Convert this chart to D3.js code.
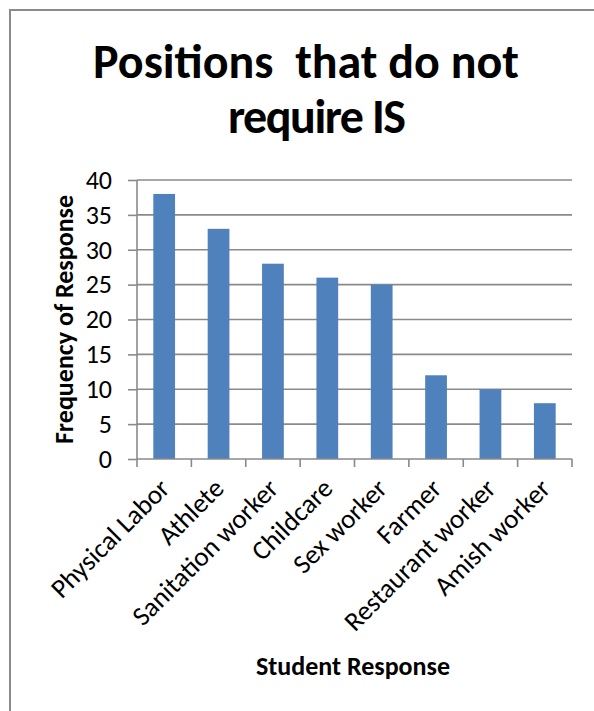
<!DOCTYPE html>
<meta charset="utf-8">
<body>
<div id="div-svg"></div>
<style>
  body { margin: 0; background: #fff; }
  text { font-family: Carlito, Calibri, Lato, sans-serif; fill: #000; }
</style>

<script src="https://d3js.org/d3.v7.min.js"></script>
<script>
    var categories = ["Physical Labor", "Athlete", "Sanitation worker", "Childcare",
                      "Sex worker", "Farmer", "Restaurant worker", "Amish worker"];
    var responses = [38, 33, 28, 26, 25, 12, 10, 8];
    var yTicks = [0, 5, 10, 15, 20, 25, 30, 35, 40];

    var width = 594;
    var height = 711;
    var plotLeft = 137, plotRight = 572, plotTop = 180, plotBottom = 459;
    var gridColor = "#8a8a8a";
    var font = "Carlito, Calibri, Lato, sans-serif";

    var svg = d3.select("#div-svg").append("svg")
        .attr("width", width)
        .attr("height", height);

    // frame round the chart area
    svg.append("path")
      .attr("d", "M10,711 L10,10 L594,10")
      .attr("fill", "none")
      .attr("stroke", "#8a8a8a")
      .attr("stroke-width", 2);

    var x = d3.scaleBand()
      .domain(categories)
      .range([plotLeft, plotRight])
      .paddingInner(0.6)
      .paddingOuter(0.3);

    var y = d3.scaleLinear()
      .domain([0, 40])
      .range([plotBottom, plotTop]);

    // gridlines
    svg.append("g").selectAll("line")
      .data(yTicks.filter(function(d){return d > 0;}))
      .enter().append("line")
      .attr("x1", plotLeft).attr("x2", plotRight)
      .attr("y1", function(d){return y(d);})
      .attr("y2", function(d){return y(d);})
      .attr("stroke", gridColor)
      .attr("stroke-width", 1.6);

    // y axis
    var yAxis = svg.append("g")
      .attr("transform", "translate(" + plotLeft + ",0)")
      .call(d3.axisLeft(y).tickValues(yTicks).tickSize(9).tickPadding(16));
    yAxis.select(".domain").attr("stroke", gridColor).attr("stroke-width", 1.6)
      .attr("d", "M0," + plotTop + "V" + plotBottom);
    yAxis.selectAll(".tick line").attr("stroke", gridColor).attr("stroke-width", 1.6);
    yAxis.selectAll(".tick text")
      .attr("fill", "#000")
      .style("font-size", "26px")
      .style("font-family", font);

    // bars
    svg.append("g").selectAll("rect")
      .data(responses)
      .enter().append("rect")
      .attr("x", function(d, i){return x(categories[i]);})
      .attr("width", x.bandwidth())
      .attr("y", function(d){return y(d);})
      .attr("height", function(d){return y(0) - y(d);})
      .attr("fill", "#4f81bd");

    // x axis line and boundary ticks
    var bounds = d3.range(categories.length + 1).map(function(i){return plotLeft + i * x.step();});
    svg.append("line")
      .attr("x1", plotLeft).attr("x2", plotRight)
      .attr("y1", plotBottom).attr("y2", plotBottom)
      .attr("stroke", gridColor).attr("stroke-width", 1.6);
    svg.append("g").selectAll("line")
      .data(bounds)
      .enter().append("line")
      .attr("x1", function(d){return d;}).attr("x2", function(d){return d;})
      .attr("y1", plotBottom).attr("y2", plotBottom + 8)
      .attr("stroke", gridColor).attr("stroke-width", 1.6);

    // category labels
    svg.append("g").selectAll("text")
      .data(categories)
      .enter().append("text")
      .attr("transform", function(d){
        return "translate(" + (x(d) + x.bandwidth() / 2 + 7) + "," + (plotBottom + 31) + ") rotate(-45)";
      })
      .attr("text-anchor", "end")
      .style("font-size", "27px")
      .text(function(d){return d;});

    // titles
    var title = svg.append("text")
      .attr("text-anchor", "middle")
      .attr("xml:space", "preserve")
      .style("white-space", "pre")
      .style("font-size", "48px")
      .style("font-weight", "bold");
    title.append("tspan").attr("x", 306).attr("y", 78).text("Positions  that do not");
    title.append("tspan").attr("x", 317).attr("y", 133)
      .attr("textLength", 178).attr("lengthAdjust", "spacing")
      .text("require IS");

    svg.append("text")
      .attr("transform", "translate(73," + ((plotTop + plotBottom) / 2) + ") rotate(-90)")
      .attr("text-anchor", "middle")
      .style("font-size", "26px")
      .style("font-weight", "bold")
      .text("Frequency of Response");

    svg.append("text")
      .attr("x", 353).attr("y", 675)
      .attr("text-anchor", "middle")
      .style("font-size", "26px")
      .style("font-weight", "bold")
      .text("Student Response");
</script>
</body>
